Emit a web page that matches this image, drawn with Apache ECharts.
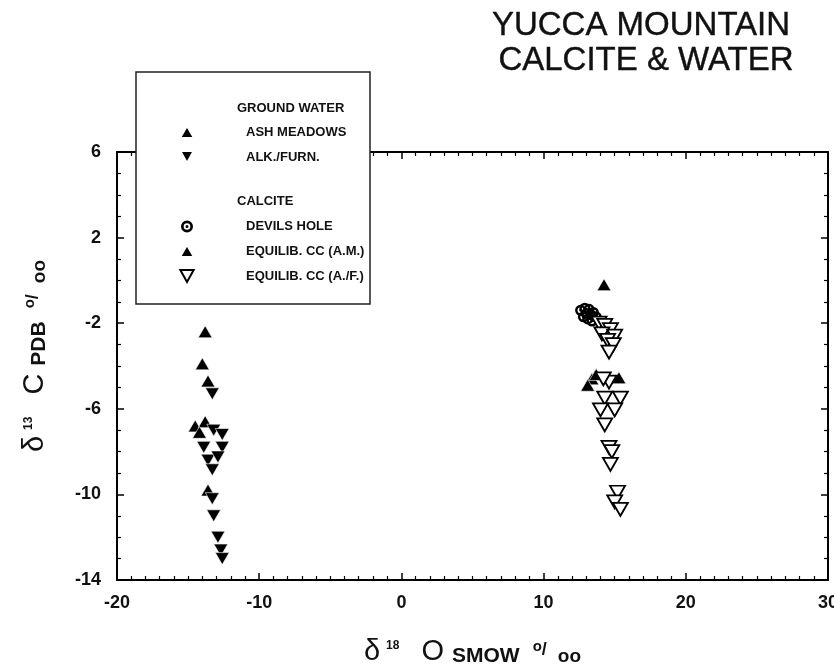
<!DOCTYPE html>
<html>
<head>
<meta charset="utf-8">
<script src="https://cdn.jsdelivr.net/npm/echarts@6/dist/echarts.min.js"></script>
<style>
html,body{margin:0;padding:0;background:#fff;}
#chart{width:834px;height:671px;}
</style>
</head>
<body>
<div id="chart"></div>
<script>
// ---- tick labels ----
const xTickLabels = [-20, -10, 0, 10, 20, 30];
const yTickLabels = [-14, -10, -6, -2, 2, 6];

// ---- series names ----
const seriesNames = ['ASH MEADOWS', 'ALK./FURN.', 'DEVILS HOLE', 'EQUILIB. CC (A.M.)', 'EQUILIB. CC (A./F.)'];

// ---- data: [d18O SMOW, d13C PDB] ----
const ashMeadowsWater = [
  [-13.8, -2.4], [-14.0, -3.9], [-13.6, -4.7], [-14.5, -6.8], [-13.8, -6.6],
  [-14.2, -7.1], [-13.6, -9.8]
];
const alkFurnWater = [
  [-13.3, -5.3], [-13.2, -7.0], [-12.6, -7.2], [-13.9, -7.8], [-12.6, -7.8],
  [-13.6, -8.4], [-12.9, -8.25], [-13.3, -8.85], [-13.3, -10.2], [-13.2, -11.0],
  [-12.9, -12.0], [-12.7, -12.6], [-12.6, -13.0]
];
const devilsHole = [
  [12.6, -1.4], [12.9, -1.3], [13.2, -1.35], [13.5, -1.5], [12.8, -1.7],
  [13.1, -1.8], [13.4, -1.9], [13.7, -1.7], [13.0, -1.55], [13.3, -1.6]
];
const equilibAM = [
  [14.25, -0.2], [13.4, -4.6], [13.1, -4.9], [15.3, -4.55], [13.7, -4.4]
];
const equilibAF = [
  [13.9, -2.0], [14.3, -2.1], [14.7, -2.3], [14.1, -2.5], [15.0, -2.6],
  [14.5, -2.8], [14.9, -3.0], [14.6, -3.35], [14.6, -4.75], [14.2, -4.6],
  [14.3, -5.5], [15.4, -5.5], [14.0, -6.05], [15.0, -6.05], [14.3, -6.75],
  [14.6, -7.8], [14.8, -8.0], [14.7, -8.6], [15.2, -9.9], [15.0, -10.35],
  [15.4, -10.7]
];

const downTri = 'path://M0,0L10,0L5,9Z';
const ringDot = 'path://M0,10a10,10 0 1,0 20,0a10,10 0 1,0 -20,0Z M4.5,10a5.5,5.5 0 1,1 11,0a5.5,5.5 0 1,1 -11,0Z M7.5,10a2.5,2.5 0 1,0 5,0a2.5,2.5 0 1,0 -5,0Z';

const FONT = '"Liberation Sans", Arial, Helvetica, sans-serif';

const chart = echarts.init(document.getElementById('chart'), null, {renderer: 'canvas'});

function xAxisBase(pos, showLabel) {
  return {
    type: 'value', position: pos,
    min: xTickLabels[0], max: xTickLabels[xTickLabels.length - 1],
    interval: xTickLabels[1] - xTickLabels[0],
    axisLine: {show: true, onZero: false, lineStyle: {color: '#000', width: 2}},
    axisTick: {show: true, inside: true, length: 7, lineStyle: {color: '#000', width: 1.5}},
    minorTick: {show: true, splitNumber: 10, length: 4, lineStyle: {color: '#000', width: 1.2}},
    splitLine: {show: false},
    axisLabel: {show: showLabel, fontFamily: FONT, fontSize: 18, fontWeight: 'bold', color: '#111', margin: 14}
  };
}
function yAxisBase(pos, showLabel) {
  return {
    type: 'value', position: pos,
    min: yTickLabels[0], max: yTickLabels[yTickLabels.length - 1],
    interval: yTickLabels[1] - yTickLabels[0],
    axisLine: {show: true, onZero: false, lineStyle: {color: '#000', width: 2}},
    axisTick: {show: true, inside: true, length: 7, lineStyle: {color: '#000', width: 1.5}},
    minorTick: {show: true, splitNumber: 4, length: 4, lineStyle: {color: '#000', width: 1.2}},
    splitLine: {show: false},
    axisLabel: {show: showLabel, fontFamily: FONT, fontSize: 18, fontWeight: 'bold', color: '#111', margin: 16}
  };
}

const nameRich = {
  d: {fontSize: 29, fontFamily: FONT, color: '#111'},
  sup: {fontSize: 12, fontFamily: FONT, fontWeight: 'bold', color: '#111', padding: [0, 0, 12, 6]},
  c: {fontSize: 29, fontFamily: FONT, color: '#111', padding: [0, 0, 0, 22]},
  sub: {fontSize: 21, fontFamily: FONT, fontWeight: 'bold', color: '#111', padding: [10, 0, 0, 8]},
  po: {fontSize: 15, fontFamily: FONT, fontWeight: 'bold', color: '#111', padding: [0, 0, 10, 13]},
  sl: {fontSize: 18, fontFamily: FONT, fontWeight: 'bold', color: '#111', padding: [0, 0, 3, 0]},
  pb: {fontSize: 19, fontFamily: FONT, fontWeight: 'bold', color: '#111', padding: [10, 0, 0, 11]}
};

const xMain = xAxisBase('bottom', true);
xMain.name = '{d|δ}{sup|18}{c|O}{sub|SMOW}{po|o}{sl|/}{pb|oo}';
xMain.nameLocation = 'middle';
xMain.nameGap = 56;
xMain.nameTextStyle = {fontFamily: FONT, color: '#111', rich: nameRich};

const yMain = yAxisBase('left', true);
yMain.name = '{d|δ}{sup|13}{c|C}{sub|PDB}{po|o}{sl|/}{pb|oo}';
yMain.nameLocation = 'middle';
yMain.nameRotate = 90;
yMain.nameGap = 67;
yMain.nameTextStyle = {fontFamily: FONT, color: '#111', rich: nameRich, padding: [0, 0, 0, 20]};

const scatterBase = {type: 'scatter', z: 3};

const option = {
  animation: false,
  backgroundColor: '#fff',
  grid: {left: 117, right: 6, top: 152, bottom: 91, containLabel: false, outerBoundsMode: 'none'},
  xAxis: [xMain, xAxisBase('top', false)],
  yAxis: [yMain, yAxisBase('right', false)],
  legend: [
    {
      data: [seriesNames[0], seriesNames[1]],
      orient: 'vertical', left: 179, top: 125, padding: 0,
      itemWidth: 14, itemHeight: 12, itemGap: 11, selectedMode: false, z: 8,
      formatter: function (n) { return '{g| }' + n; },
      textStyle: {fontFamily: FONT, fontSize: 13, fontWeight: 'bold', color: '#111', rich: {g: {width: 47}}}
    },
    {
      data: [seriesNames[2], seriesNames[3], seriesNames[4]],
      orient: 'vertical', left: 179, top: 220, padding: 0,
      itemWidth: 14, itemHeight: 12, itemGap: 11, selectedMode: false, z: 8,
      formatter: function (n) { return '{g| }' + n; },
      textStyle: {fontFamily: FONT, fontSize: 13, fontWeight: 'bold', color: '#111', rich: {g: {width: 47}}}
    }
  ],
  graphic: [
    {type: 'rect', z: 6, shape: {x: 136, y: 72, width: 234, height: 232},
     style: {fill: '#fff', stroke: '#222', lineWidth: 1.5}},
    {type: 'text', z: 7, left: 237, top: 102,
     style: {text: 'GROUND WATER', font: 'bold 13px ' + FONT, fill: '#111'}},
    {type: 'text', z: 7, left: 237, top: 195,
     style: {text: 'CALCITE', font: 'bold 13px ' + FONT, fill: '#111'}},
    {type: 'text', z: 7, x: 641, y: 26,
     style: {text: 'YUCCA MOUNTAIN', font: '33px ' + FONT, fill: '#111', textAlign: 'center', textVerticalAlign: 'middle', stroke: '#111', lineWidth: 0.4}},
    {type: 'text', z: 7, x: 646, y: 61,
     style: {text: 'CALCITE & WATER', font: '33px ' + FONT, fill: '#111', textAlign: 'center', textVerticalAlign: 'middle', stroke: '#111', lineWidth: 0.4}}
  ],
  series: [
    Object.assign({}, scatterBase, {
      name: seriesNames[0], data: ashMeadowsWater, symbol: 'triangle', symbolSize: [14, 12],
      itemStyle: {color: '#000', borderColor: '#fff', borderWidth: 0.6, opacity: 1}
    }),
    Object.assign({}, scatterBase, {
      name: seriesNames[1], data: alkFurnWater, symbol: downTri, symbolSize: [14, 12],
      itemStyle: {color: '#000', borderColor: '#fff', borderWidth: 0.6, opacity: 1}
    }),
    Object.assign({}, scatterBase, {
      name: seriesNames[2], data: devilsHole, symbol: ringDot, symbolSize: 11,
      itemStyle: {color: '#000', opacity: 1}
    }),
    Object.assign({}, scatterBase, {
      name: seriesNames[3], data: equilibAM, symbol: 'triangle', symbolSize: [14, 12],
      itemStyle: {color: '#000', borderColor: '#fff', borderWidth: 0.6, opacity: 1}
    }),
    Object.assign({}, scatterBase, {
      name: seriesNames[4], data: equilibAF, symbol: downTri, symbolSize: [15, 13],
      itemStyle: {color: '#fff', borderColor: '#000', borderWidth: 1.8, opacity: 1}
    })
  ]
};
chart.setOption(option);
</script>
</body>
</html>
